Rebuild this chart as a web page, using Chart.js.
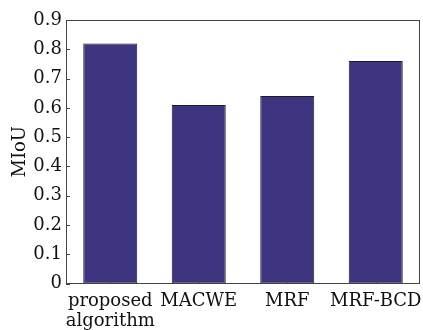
<!DOCTYPE html>
<html>
<head>
<meta charset="utf-8">
<script src="https://cdn.jsdelivr.net/npm/chart.js@4"></script>
<style>
  html, body { margin: 0; padding: 0; background: #fff; }
  #wrap { width: 423px; height: 330px; }
</style>
</head>
<body>
<div id="wrap"><canvas id="c" width="423" height="330"></canvas></div>
<script>
// Segmentation accuracy (MIoU) of each method
const categories = [['proposed', 'algorithm'], 'MACWE', 'MRF', 'MRF-BCD'];
const miou = [0.82, 0.61, 0.64, 0.76];
const yTicks = [0, 0.1, 0.2, 0.3, 0.4, 0.5, 0.6, 0.7, 0.8, 0.9];

const FONT = "'DejaVu Serif', serif";
const AXIS_COLOR = '#444';

// Box around the plot area plus short inward tick marks
const frameAndTicks = {
  id: 'frameAndTicks',
  afterDraw(chart) {
    const ctx = chart.ctx;
    const a = chart.chartArea;
    const xs = chart.scales.x, ys = chart.scales.y;
    ctx.save();
    ctx.strokeStyle = AXIS_COLOR;
    ctx.lineWidth = 1;
    ctx.beginPath();
    const len = 4;
    yTicks.forEach(v => {
      const y = Math.round(ys.getPixelForValue(v)) + 0.5;
      ctx.moveTo(a.left, y);
      ctx.lineTo(a.left + len, y);
    });
    categories.forEach((_, i) => {
      const x = Math.round(xs.getPixelForValue(i)) + 0.5;
      ctx.moveTo(x, a.bottom);
      ctx.lineTo(x, a.bottom - len);
    });
    ctx.stroke();
    ctx.strokeRect(Math.round(a.left) + 0.5, Math.round(a.top) + 0.5,
                   Math.round(a.right - a.left) - 1, Math.round(a.bottom - a.top) - 1);
    ctx.restore();
  }
};

new Chart(document.getElementById('c'), {
  type: 'bar',
  data: {
    labels: categories,
    datasets: [{
      data: miou,
      backgroundColor: '#3e3581',
      borderColor: '#1c1c2a',
      borderWidth: 1,
      borderSkipped: false,
      categoryPercentage: 1,
      barPercentage: 0.61
    }]
  },
  options: {
    responsive: false,
    animation: false,
    layout: { padding: { left: 0, right: 3, top: 20, bottom: 0 } },
    plugins: { legend: { display: false }, tooltip: { enabled: false } },
    scales: {
      x: {
        grid: { display: false, drawTicks: false },
        border: { display: false },
        ticks: {
          color: '#111',
          font: { family: FONT, size: 18, lineHeight: 1.1 },
          padding: 8,
          maxRotation: 0,
          autoSkip: false
        },
        afterFit(s) {
          s.height = 46.5;
          s.paddingLeft = 0;
          s.paddingRight = 0;
        }
      },
      y: {
        min: 0,
        max: 0.9,
        afterBuildTicks(s) { s.ticks = yTicks.map(v => ({ value: v })); },
        grid: { display: false, drawTicks: false },
        border: { display: false },
        ticks: {
          color: '#111',
          font: { family: FONT, size: 18 },
          padding: 4,
          callback: v => String(v)
        },
        title: {
          display: true,
          text: 'MIoU',
          color: '#111',
          font: { family: FONT, size: 18 },
          padding: { top: 10, bottom: 0 }
        },
        afterFit(s) {
          s.width = 66;
          s.paddingTop = 0;
          s.paddingBottom = 0;
        }
      }
    }
  },
  plugins: [frameAndTicks]
});
</script>
</body>
</html>
